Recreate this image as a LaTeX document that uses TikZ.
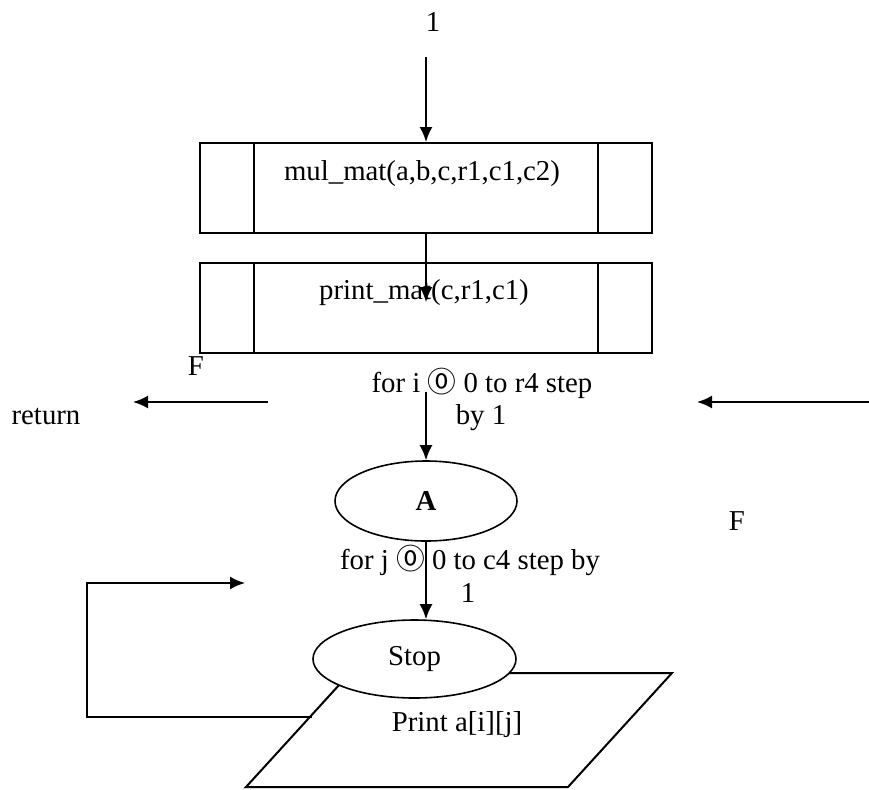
\documentclass[tikz,border=0pt]{standalone}
\usepackage{fontspec}
\setmainfont{Liberation Serif}
\newfontfamily\symfont{Noto Sans CJK SC}
\usetikzlibrary{calc, arrows, arrows.meta, shapes, shapes.geometric, positioning}

\begin{document}
\begin{tikzpicture}[x=0.5pt, y=-0.5pt,
  font=\fontsize{14.4}{17}\selectfont,
  procbox/.style={draw, line width=1pt, minimum width=226pt, minimum height=45pt, inner sep=0pt},
  term/.style={draw, ellipse, line width=0.8pt, fill=white, inner sep=0pt},
  flow/.style={-{Latex[length=7.5pt, width=6.5pt]}, line width=1pt}
  ]
  \useasboundingbox (0,0) rectangle (869,789);

  \draw node (one) at (433,22) {1} coordinate (top) at (426,57);
  \draw node[procbox] (mul) at (426,188) {} node (multxt) at (422,174) {mul\_mat(a,b,c,r1,c1,c2)};
  \draw node[procbox] (prt) at (426,308) {} node (prttxt) at (424,293) {print\_mat(c,r1,c1)};
  \foreach \b in {mul, prt} {
    \draw[line width=1pt] ($(\b.north west)+(55,0)$) -- ($(\b.south west)+(55,0)$)
      ($(\b.north east)+(-55,0)$) -- ($(\b.south east)+(-55,0)$);
  }

  \draw node (f1) at (196,366) {F}
    node (fori) at (482,383) {for i {\symfont ⓪} 0 to r4 step}
    node (by1) at (481,418) {by 1}
    node (ret) at (46,417) {return}
    node (f2) at (737,521) {F};

  \draw node[term, minimum width=91pt, minimum height=40pt] (A) at (426,501) {\textbf{A}};
  \draw node (forj) at (470,560) {for j {\symfont ⓪} 0 to c4 step by}
    node (one2) at (468,593) {1};

  \draw[line width=1pt, fill=white] (350,673) coordinate (p1) -- (672,673) coordinate (p2)
    -- (568,787) coordinate (p3) -- (246,787) coordinate (p4) -- cycle;
  \draw node (print) at (457,725) {Print a[i][j]};
  \draw node[term, minimum width=101.5pt, minimum height=39pt] (stop) at (414.5,659) {Stop};

  \draw coordinate (m1) at (426,302) coordinate (m2) at (426,392)
    coordinate (l1) at (268,402) coordinate (l2) at (133,402)
    coordinate (r1) at (869,402) coordinate (r2) at (697,402)
    coordinate (q1) at (312,717) coordinate (q2) at (87,583) coordinate (q3) at (245,583);

  \path[flow] (top) edge (mul.north)
    (mul.south) edge (m1)
    (m2) edge (A.north)
    (A.south) edge (A.south |- stop.north)
    (l1) edge (l2)
    (r1) edge (r2);
  \draw[flow] (q1) -| (q2) -- (q3);
\end{tikzpicture}
\end{document}
